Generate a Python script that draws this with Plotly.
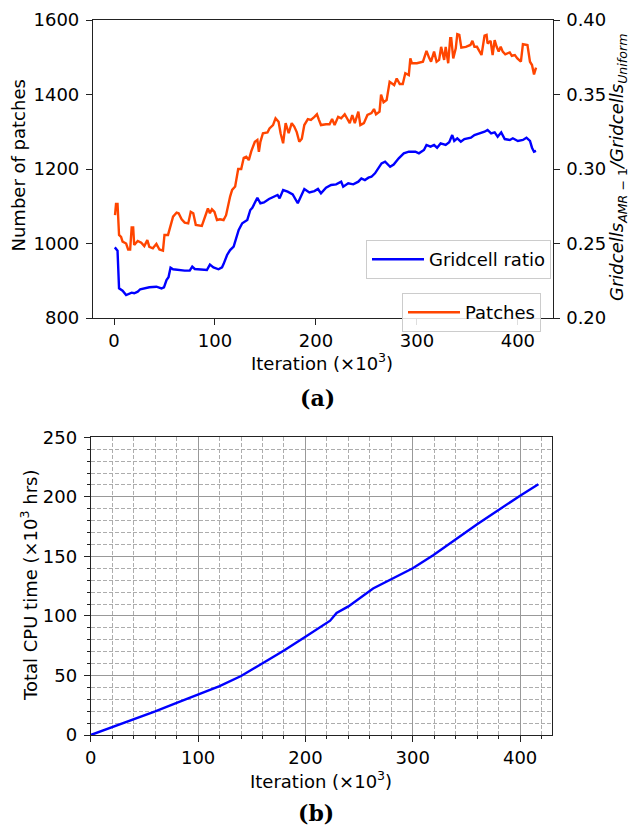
import plotly.graph_objects as go

W, H = 630, 830

# ---------------- data (a) ----------------
ratio_iter = [0.8, 2, 3.5, 5, 8.5, 12, 15, 17.5, 20, 23.5, 26, 30, 35, 42, 47, 49.5, 52, 54, 56, 58.5,
              63.5, 70, 75, 77.5, 80, 87, 92, 95, 98.5, 103.5, 107, 108.5, 112, 115, 118.5, 123.5, 127,
              132, 135, 137, 142, 145, 148.5, 153.5, 158.5, 162, 164, 167.5, 172, 177, 182, 185, 188.5,
              193.5, 198.5, 202, 205, 210, 215, 220, 225, 227, 232, 237, 242, 245, 248.5, 252, 255,
              258.5, 262, 265, 268.5, 273.5, 277, 282, 287, 292, 298.5, 302, 307, 309.5, 313.5, 317,
              320, 323.5, 328.5, 332, 335, 337, 340, 343.5, 347, 353.5, 357, 362, 367, 370, 373.5, 377,
              380, 383.5, 387, 392, 395, 400, 405, 408.5, 412, 414, 416, 418]
ratio_val = [0.2474, 0.2461, 0.2452, 0.2199, 0.2183, 0.2154, 0.2161, 0.2170, 0.2166, 0.2177, 0.2193,
             0.2199, 0.2206, 0.2210, 0.2199, 0.2206, 0.2255, 0.2273, 0.2338, 0.2327, 0.2322, 0.2318,
             0.2318, 0.2345, 0.2329, 0.2322, 0.2322, 0.2358, 0.2340, 0.2327, 0.2340, 0.2362, 0.2423,
             0.2456, 0.2479, 0.2591, 0.2636, 0.2658, 0.2725, 0.2740, 0.2807, 0.2770, 0.2776, 0.2799,
             0.2814, 0.2826, 0.2803, 0.2859, 0.2848, 0.2830, 0.2770, 0.2814, 0.2866, 0.2843, 0.2852,
             0.2866, 0.2837, 0.2874, 0.2893, 0.2897, 0.2915, 0.2881, 0.2904, 0.2897, 0.2915, 0.2937,
             0.2926, 0.2942, 0.2948, 0.2971, 0.3009, 0.3038, 0.3049, 0.3015, 0.3030, 0.3072, 0.3105,
             0.3116, 0.3116, 0.3105, 0.3128, 0.3161, 0.3150, 0.3161, 0.3143, 0.3172, 0.3161, 0.3179,
             0.3228, 0.3188, 0.3206, 0.3183, 0.3201, 0.3210, 0.3228, 0.3239, 0.3250, 0.3262, 0.3239,
             0.3246, 0.3217, 0.3246, 0.3201, 0.3195, 0.3206, 0.3188, 0.3195, 0.3210, 0.3188, 0.3143,
             0.3116, 0.3121]

patch_iter = [1, 2, 3.5, 5, 7, 8.5, 12, 14, 16, 17.5, 19, 20, 23.5, 27, 30, 33, 35, 38.5, 42, 45, 48.5,
              50, 53.5, 56, 58.5, 62, 64, 67, 70, 73.5, 76, 78.5, 81, 87, 90, 93, 95, 97, 99.5, 102,
              105, 108.5, 111, 113.5, 115, 117, 120, 123, 126, 128.5, 131, 133.5, 136, 139.5, 142,
              143.5, 145, 147.5, 152, 154, 157.5, 160, 163, 165, 167.5, 170, 173, 176, 178.5, 181,
              183.5, 186, 188.5, 192, 195, 198.5, 201, 203, 205, 210, 213.5, 216, 218.5, 222, 225,
              228.5, 231, 233.5, 236, 238.5, 242, 244, 247.5, 251, 255, 257.5, 259.5, 263, 264.5,
              267, 270, 273, 275, 277.5, 280, 283, 286, 288.5, 292, 293.5, 295, 300, 306, 309.5, 312,
              314, 317, 319.5, 322, 324, 327, 328.5, 331, 333, 334, 336, 338.5, 340, 342, 344, 348.5,
              353, 355, 357, 359.5, 362, 364, 367, 369, 370, 373, 375, 377, 379, 381, 383, 385,
              387.5, 392, 394, 397, 399.5, 403, 405, 409.5, 412, 414, 416, 418]
patch_val = [1076, 1106, 1106, 1023, 1018, 1005, 1000, 984, 984, 1043, 1043, 996, 1007, 1002, 993,
             1009, 991, 987, 999, 984, 981, 1023, 1023, 1050, 1072, 1083, 1081, 1065, 1056, 1054,
             1085, 1081, 1050, 1047, 1072, 1094, 1081, 1092, 1085, 1063, 1065, 1063, 1076, 1110,
             1126, 1144, 1153, 1200, 1200, 1230, 1233, 1224, 1248, 1273, 1278, 1246, 1273, 1296,
             1298, 1309, 1318, 1336, 1327, 1296, 1269, 1323, 1296, 1323, 1314, 1299, 1273, 1281,
             1318, 1334, 1332, 1340, 1347, 1332, 1318, 1320, 1320, 1334, 1318, 1340, 1336, 1347,
             1336, 1323, 1345, 1323, 1354, 1318, 1323, 1345, 1350, 1361, 1347, 1354, 1400, 1379,
             1385, 1434, 1430, 1425, 1443, 1428, 1428, 1457, 1452, 1497, 1484, 1484, 1488, 1517,
             1499, 1488, 1515, 1488, 1493, 1528, 1493, 1528, 1484, 1551, 1551, 1497, 1524, 1562,
             1560, 1526, 1528, 1533, 1544, 1528, 1528, 1515, 1506, 1558, 1560, 1537, 1544, 1506,
             1546, 1528, 1515, 1528, 1515, 1508, 1513, 1504, 1506, 1497, 1488, 1535, 1533, 1488,
             1479, 1454, 1472]

# ---------------- data (b) ----------------
cpu_iter = [0, 20, 40, 60, 80, 100, 120, 140, 160, 180, 200, 215, 223, 229, 240, 263, 300, 319, 360,
            400, 417]
cpu_val = [0, 6.5, 13, 19.8, 27, 34, 41, 49.5, 60, 71, 82.5, 91.5, 96, 102.5, 108, 123, 140, 151,
           177, 201, 210.5]

x_ticks = [0, 100, 200, 300, 400]
BLUE = "#0000ff"
ORANGE = "#ff4500"
FONT = "DejaVu Sans"
FS = 18
AX = "#222222"


def px_x(p):
    return p / W


def px_y(p):
    return 1 - p / H


fig = go.Figure()
fig.add_trace(go.Scatter(x=ratio_iter, y=ratio_val, mode="lines", name="Gridcell ratio",
                         line=dict(color=BLUE, width=2.4), xaxis="x", yaxis="y2", legend="legend"))
fig.add_trace(go.Scatter(x=patch_iter, y=patch_val, mode="lines", name="Patches",
                         line=dict(color=ORANGE, width=2.4), xaxis="x", yaxis="y", legend="legend2"))
fig.add_trace(go.Scatter(x=cpu_iter, y=cpu_val, mode="lines", name="CPU time", showlegend=False,
                         line=dict(color=BLUE, width=2.4), xaxis="x2", yaxis="y3"))

common = dict(showline=True, linecolor=AX, linewidth=1.2, ticks="outside", ticklen=6,
              tickwidth=1.2, tickcolor=AX, zeroline=False, automargin=False,
              tickfont=dict(family=FONT, size=FS, color="black"))

minor_grid = dict(showgrid=True, gridcolor="#adadad", griddash="4px,2px", gridwidth=1,
                  ticks="outside", ticklen=3, tickcolor=AX, tick0=0)

fig.update_layout(
    width=W, height=H,
    margin=dict(l=0, r=0, t=0, b=0),
    paper_bgcolor="white", plot_bgcolor="white",
    font=dict(family=FONT, size=FS, color="black"),
    xaxis=dict(domain=[px_x(93), px_x(552.5)], range=[-20.8, 434.3], anchor="y",
               tickvals=x_ticks, showgrid=False, mirror=True, ticklabelstandoff=0, **common),
    yaxis=dict(domain=[px_y(318), px_y(20)], range=[800, 1600], dtick=200, anchor="x",
               showgrid=False, ticklabelstandoff=3, **common),
    yaxis2=dict(range=[0.2, 0.4], tickvals=[0.2, 0.25, 0.3, 0.35, 0.4], tickformat=".2f",
                overlaying="y", side="right", anchor="x", showgrid=False, ticklabelstandoff=3,
                **common),
    xaxis2=dict(domain=[px_x(90.8), px_x(552.3)], range=[0, 430], anchor="y3",
                tickvals=x_ticks, showgrid=True, gridcolor="#999999", gridwidth=1.2, mirror=True,
                minor=dict(dtick=20, **minor_grid), ticklabelstandoff=0, **common),
    yaxis3=dict(domain=[px_y(735), px_y(437.3)], range=[0, 250], dtick=50, anchor="x2",
                showgrid=True, gridcolor="#999999", gridwidth=1.2, mirror=True,
                minor=dict(dtick=10, **minor_grid), ticklabelstandoff=3, **common),
    legend=dict(x=px_x(551), y=px_y(240), xanchor="right", yanchor="top",
                bgcolor="rgba(255,255,255,0.85)", bordercolor="#cccccc", borderwidth=1,
                font=dict(family=FONT, size=FS, color="black"), itemwidth=52),
    legend2=dict(x=px_x(541), y=px_y(293), xanchor="right", yanchor="top",
                 bgcolor="rgba(255,255,255,0.85)", bordercolor="#cccccc", borderwidth=1,
                 font=dict(family=FONT, size=FS, color="black"), itemwidth=52),
)

ann = [
    dict(text="Number of patches", x=px_x(18.5), y=px_y(166), textangle=-90),
    dict(text="<i>Gridcells</i><sub><i>AMR</i> − 1</sub><i>/Gridcells</i><sub><i>Uniform</i></sub>",
         x=px_x(618), y=px_y(168), textangle=-90),
    dict(text="Iteration (×10<sup>3</sup>)", x=px_x(322), y=px_y(362)),
    dict(text="<b>(a)</b>", x=px_x(317), y=px_y(398),
         font=dict(family="DejaVu Serif", size=22, color="black")),
    dict(text="Total CPU time (×10<sup>3</sup> hrs)", x=px_x(29), y=px_y(586), textangle=-90),
    dict(text="Iteration (×10<sup>3</sup>)", x=px_x(321), y=px_y(780)),
    dict(text="<b>(b)</b>", x=px_x(316), y=px_y(813),
         font=dict(family="DejaVu Serif", size=22, color="black")),
]
for a in ann:
    a.setdefault("font", dict(family=FONT, size=FS, color="black"))
    fig.add_annotation(xref="paper", yref="paper", xanchor="center", yanchor="middle",
                       showarrow=False, **a)

fig.write_html("out.html")
